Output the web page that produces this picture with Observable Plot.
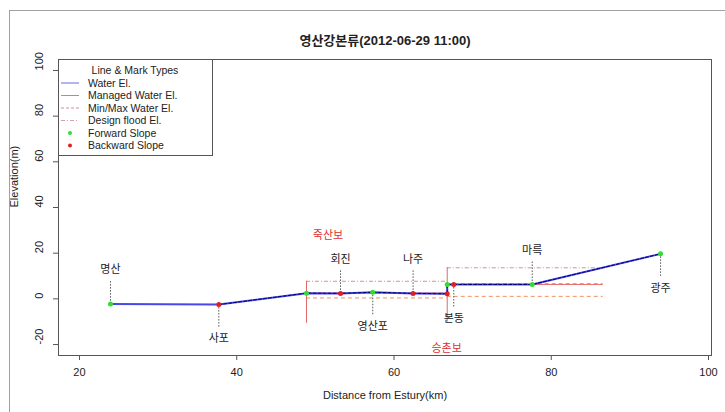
<!DOCTYPE html>
<html><head><meta charset="utf-8">
<script src="https://cdn.jsdelivr.net/npm/d3@7"></script>
<script src="https://cdn.jsdelivr.net/npm/@observablehq/plot@0.6"></script>
<style>
html,body{margin:0;padding:0;background:#fff;overflow:hidden;}
#wrap{position:relative;width:725px;height:412px;overflow:hidden;}
#chart{position:absolute;left:0;top:0;}
#outer{position:absolute;left:9px;top:10px;width:800px;height:500px;border-left:1px solid #a0a0a0;border-top:1px solid #a0a0a0;pointer-events:none;}
</style></head><body>
<div id="wrap"><div id="chart"></div><div id="outer"></div></div>
<script>
// ---- data ----
const title = "영산강본류(2012-06-29 11:00)";
const xLabel = "Distance from Estury(km)";
const yLabel = "Elevation(m)";
const xTicks = [20, 40, 60, 80, 100];
const yTicks = [-20, 0, 20, 40, 60, 80, 100];

// water surface profile (km, m) and slope type of each point
const waterX = [23.94, 37.72, 48.87, 53.2, 57.3, 62.43, 66.77, 66.77, 67.6, 77.58, 93.9];
const waterY = [-2.3, -2.5, 2.5, 2.4, 2.9, 2.4, 2.2, 6.3, 6.3, 6.3, 19.7];
const slopeType = ["F", "B", "F", "B", "F", "B", "B", "F", "B", "F", "F"];

// gauging stations
const stationNames = ["명산", "사포", "회진", "영산포", "나주", "본동", "마륵", "광주"];
const stationX = [23.94, 37.72, 53.2, 57.3, 62.43, 67.6, 77.58, 93.9];
const stationY = [-2.3, -2.5, 2.4, 2.9, 2.4, 6.3, 6.3, 19.7];

// weirs
const weirNames = ["죽산보", "승촌보"];
const weirX = [48.87, 66.77];
const reachEndX = [66.77, 86.6];
const designFloodEl = [7.7, 13.6];
const managedEl = [2.5, 6.3];
const maxEl = [2.5, 6.6];
const minEl = [0.4, 1.1];
const weirBottomEl = [-10.7, -10.2];
const weirLabelX = [51.6, 66.7];
const weirLabelY = [27.7, -21.8];

const legendLabels = ["Water El.", "Managed Water El.", "Min/Max Water El.", "Design flood El.", "Forward Slope", "Backward Slope"];

// ---- build ----
const F = '"Liberation Sans", Arial, "Noto Sans CJK KR", sans-serif';
const profile = waterX.map((x, i) => ({x, y: waterY[i], slope: slopeType[i]}));
const stations = stationNames.map((name, i) => ({name, x: stationX[i], y: stationY[i], side: i % 2 === 0 ? 1 : -1}));
const weirs = weirNames.map((name, i) => ({
  name, x: weirX[i], x2: reachEndX[i], flood: designFloodEl[i], managed: managedEl[i],
  max: maxEl[i], min: minEl[i], bottom: weirBottomEl[i], lx: weirLabelX[i], ly: weirLabelY[i]
}));

const plot = Plot.plot({
  width: 725, height: 412,
  marginLeft: 58, marginRight: 14, marginTop: 59, marginBottom: 57,
  style: {fontFamily: F, fontSize: "11px", color: "#222", background: "transparent"},
  x: {domain: [17.33, 100.38]},
  y: {domain: [-24.8, 104.8]},
  color: {domain: ["F", "B"], range: ["#33dd33", "#e02020"]},
  marks: [
    Plot.axisX({ticks: xTicks, tickSize: 5, tickPadding: 8, label: null, stroke: "#555"}),
    Plot.axisY({ticks: yTicks, tickSize: 5, tickFormat: () => "", label: null, stroke: "#555"}),
    Plot.text(yTicks, {y: d => d, text: d => String(d), frameAnchor: "left", dx: -19, rotate: -90, fill: "#222"}),
    Plot.text([xLabel], {frameAnchor: "bottom", dy: 43, text: d => d, fill: "#222"}),
    Plot.text([yLabel], {frameAnchor: "left", dx: -44, rotate: -90, text: d => d, fill: "#222"}),
    Plot.text([title], {frameAnchor: "top", dy: -24, text: d => d, fontWeight: "bold", fontSize: 13, fill: "#222"}),
    Plot.ruleY(weirs, {y: "flood", x1: "x", x2: "x2", stroke: "#d89090", strokeDasharray: "4,2,1,2"}),
    Plot.ruleY(weirs, {y: "min", x1: "x", x2: "x2", stroke: "#f09060", strokeDasharray: "4,3"}),
    Plot.ruleY(weirs, {y: "managed", x1: "x", x2: "x2", stroke: "#e87070"}),
    Plot.ruleY(weirs, {y: "max", x1: "x", x2: "x2", stroke: "#f07050", strokeDasharray: "4,3"}),
    Plot.ruleX(weirs, {x: "x", y1: "bottom", y2: "flood", stroke: "#e06868"}),
    Plot.ruleX(stations, {x: "x", y1: "y", y2: d => d.y + 10 * d.side, stroke: "#555", strokeDasharray: "1.5,1.5"}),
    Plot.line(profile, {x: "x", y: "y", stroke: "#4848e8", strokeWidth: 2}),
    Plot.line(profile.slice(1), {x: "x", y: "y", stroke: "#000070", strokeWidth: 1, strokeDasharray: "3,2"}),
    Plot.dot(profile, {x: "x", y: "y", r: 2.5, fill: "slope", stroke: "none"}),
    Plot.text(stations, {x: "x", y: d => d.y + 15 * d.side, text: "name", fill: "#222"}),
    Plot.text(weirs, {x: "lx", y: "ly", text: "name", fill: "#e03030"}),
    Plot.frame({stroke: "#555"})
  ]
});
document.getElementById("chart").appendChild(plot);

// legend box (R-style)
const svg = d3.select(plot);
const g = svg.append("g").attr("font-family", F).attr("font-size", 10.5).attr("fill", "#222").attr("text-anchor", "start");
g.append("rect").attr("x", 58.5).attr("y", 59.5).attr("width", 154).attr("height", 96)
  .attr("fill", "#fff").attr("stroke", "#555");
g.append("text").attr("x", 135).attr("y", 70).attr("text-anchor", "middle").attr("dy", "0.35em").text("Line & Mark Types");
const rowY = [83, 95.5, 108, 120.5, 133, 145.5];
const lineStyles = [
  {stroke: "#6b6bd6", dash: null},
  {stroke: "#e07a7a", dash: null},
  {stroke: "#d888a8", dash: "3,2"},
  {stroke: "#d8a0a8", dash: "4,2,1,2"}
];
legendLabels.forEach((lab, i) => {
  const y = rowY[i];
  if (i < 4) {
    const s = lineStyles[i];
    const l = g.append("line").attr("x1", 61).attr("x2", 79).attr("y1", y).attr("y2", y).attr("stroke", s.stroke);
    if (s.dash) l.attr("stroke-dasharray", s.dash);
  } else {
    g.append("circle").attr("cx", 70).attr("cy", y).attr("r", 2).attr("fill", i === 4 ? "#33dd33" : "#e02020");
  }
  g.append("text").attr("x", 88).attr("y", y).attr("dy", "0.35em").attr("text-anchor", "start").text(lab);
});
</script>
</body></html>
